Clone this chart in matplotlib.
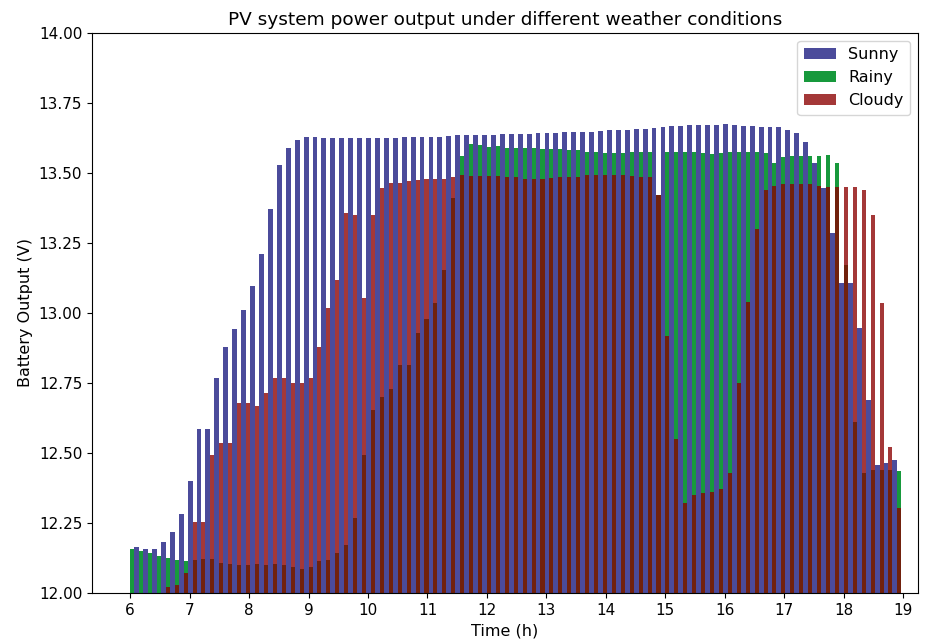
import numpy as np
import matplotlib
matplotlib.use("Agg")
import matplotlib.pyplot as plt

# time axis: readings every 9 minutes from 6:00
minutes = np.arange(87) * 9
times = 6 + minutes / 60.0

sunny = [12.163, 12.156, 12.156, 12.181, 12.219, 12.281, 12.40, 12.586, 12.586, 12.767,
         12.88, 12.944, 13.01, 13.098, 13.21, 13.37, 13.53, 13.588, 13.618, 13.627,
         13.63, 13.625, 13.625, 13.625, 13.625, 13.625, 13.625, 13.625, 13.625, 13.625,
         13.628, 13.628, 13.63, 13.63, 13.63, 13.632, 13.634, 13.634, 13.635, 13.635,
         13.636, 13.638, 13.638, 13.64, 13.64, 13.642, 13.642, 13.644, 13.645, 13.646,
         13.648, 13.648, 13.65, 13.652, 13.652, 13.655, 13.656, 13.658, 13.66,
         13.663, 13.668, 13.668, 13.67, 13.67, 13.67, 13.67, 13.675, 13.672, 13.668,
         13.668, 13.665, 13.665, 13.663, 13.654, 13.644, 13.61, 13.535, 13.445, 13.287,
         13.106, 13.106, 12.945, 12.69, 12.457, 12.465, 12.475, 11.95]

rainy = [12.157, 12.15, 12.142, 12.132, 12.124, 12.116, 12.113, 12.118, 12.12, 12.12,
         12.106, 12.104, 12.10, 12.10, 12.104, 12.10, 12.104, 12.10, 12.094, 12.085,
         12.094, 12.113, 12.118, 12.142, 12.171, 12.267, 12.493, 12.654, 12.70, 12.73,
         12.814, 12.814, 12.927, 12.98, 13.035, 13.154, 13.41, 13.56, 13.604, 13.60,
         13.592, 13.596, 13.59, 13.59, 13.59, 13.59, 13.585, 13.585, 13.585, 13.582,
         13.582, 13.576, 13.576, 13.573, 13.573, 13.573, 13.576, 13.576, 13.576, 13.42,
         13.576, 13.576, 13.576, 13.576, 13.57, 13.567, 13.57, 13.576, 13.576, 13.576,
         13.576, 13.57, 13.535, 13.556, 13.56, 13.56, 13.56, 13.56, 13.563, 13.537,
         13.17, 12.61, 12.43, 12.44, 12.44, 12.44, 12.437]

cloudy = [11.95, 11.95, 11.95, 11.95, 12.023, 12.03, 12.07, 12.255, 12.255, 12.493,
          12.535, 12.535, 12.68, 12.68, 12.666, 12.713, 12.767, 12.767, 12.75, 12.75,
          12.767, 12.88, 13.017, 13.118, 13.356, 13.35, 13.055, 13.35, 13.445, 13.463,
          13.466, 13.47, 13.476, 13.48, 13.48, 13.48, 13.487, 13.493, 13.488, 13.49,
          13.489, 13.489, 13.487, 13.486, 13.48, 13.48, 13.48, 13.483, 13.487, 13.487,
          13.486, 13.493, 13.493, 13.493, 13.493, 13.493, 13.49, 13.487, 13.487, 13.42,
          12.918, 12.55, 12.32, 12.35, 12.356, 12.36, 12.37, 12.43, 12.75, 13.04,
          13.30, 13.44, 13.455, 13.46, 13.46, 13.46, 13.46, 13.455, 13.45, 13.45,
          13.45, 13.45, 13.44, 13.35, 13.035, 12.52, 12.305]

series_names = ["Sunny", "Rainy", "Cloudy"]
xticks = list(range(6, 20))
yticks = [12.00, 12.25, 12.50, 12.75, 13.00, 13.25, 13.50, 13.75, 14.00]

fig = plt.figure(figsize=(9.35, 6.43), dpi=100)
ax = fig.add_axes([0.0984, 0.0778, 0.8836, 0.8709])

wg = 0.068
wb = 0.082
t = np.asarray(times)
ax.bar(t + wg, sunny, width=wb, align="edge", color="#4b4b9b", label=series_names[0])
ax.bar(t, rainy, width=wg, align="edge", color="#17993c", label=series_names[1])
ax.bar(t, cloudy, width=wg, align="edge", color="darkred", alpha=0.78, label=series_names[2])

ax.set_xlim(5.36, 19.25)
ax.set_ylim(12.0, 14.0)
ax.set_xticks(xticks)
ax.set_yticks(yticks)
ax.set_yticklabels([f"{v:.2f}" for v in yticks])
ax.tick_params(labelsize=11)
ax.set_xlabel("Time (h)", fontsize=11.5)
ax.set_ylabel("Battery Output (V)", fontsize=11.5)
ax.set_title("PV system power output under different weather conditions", fontsize=13.3)
ax.legend(loc="upper right", fontsize=11.5)

fig.savefig("out.png", dpi=100)
